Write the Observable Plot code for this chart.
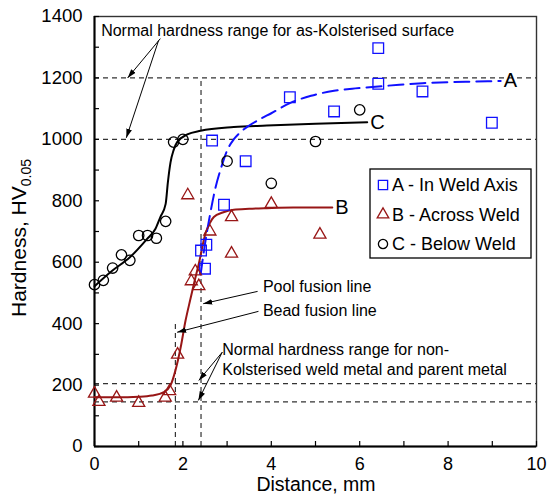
<!DOCTYPE html>
<html><head><meta charset="utf-8">
<script src="https://cdn.jsdelivr.net/npm/d3@7"></script>
<script src="https://cdn.jsdelivr.net/npm/@observablehq/plot@0.6"></script>
<style>body{margin:0;background:#fff}</style>
</head><body><div id="chart"></div>
<script>
// ---- data ----
const seriesA_x = [2.41, 2.53, 2.50, 2.93, 2.66, 3.42, 4.42, 5.42, 6.42, 6.42, 7.42, 8.99];
const seriesA_y = [638, 657, 579, 787, 996, 929, 1137, 1091, 1297, 1181, 1156, 1054];

const seriesB_x = [0, 0.1, 0.5, 1.0, 1.6, 1.7, 1.88, 2.11, 2.19, 2.28, 2.36, 2.61, 3.1, 3.1, 4.0, 5.1];
const seriesB_y = [172, 145, 159, 142, 159, 180, 299, 818, 538, 570, 522, 700, 747, 628, 790, 690];

const seriesC_x = [0, 0.2, 0.41, 0.61, 0.8, 1.0, 1.2, 1.4, 1.61, 1.79, 2.0, 3.0, 4.0, 5.0, 6.0];
const seriesC_y = [527, 541, 581, 624, 606, 687, 687, 678, 733, 991, 1000, 929, 857, 993, 1096];

const fitA_x = [2.40, 2.50, 2.59, 2.74, 2.87, 3.0, 3.15, 3.3, 3.5, 3.76, 4.0, 4.42, 4.9, 5.42, 5.9, 6.42, 6.9, 7.42, 8.0, 8.6, 9.19];
const fitA_y = [560, 660, 736, 844, 910, 964, 1000, 1023, 1045, 1067, 1085, 1118, 1142, 1158, 1166, 1172, 1178, 1183, 1186, 1188, 1190];

const fitB_x = [0, 0.5, 1.0, 1.3, 1.57, 1.72, 1.83, 1.95, 2.06, 2.17, 2.25, 2.36, 2.51, 2.6, 2.7, 2.9, 3.15, 3.5, 3.9, 4.5, 5.38];
const fitB_y = [160, 160, 162, 166, 177, 199, 247, 323, 410, 480, 530, 595, 693, 725, 747, 762, 771, 774, 776, 778, 778];

const fitC_x = [0, 0.1, 0.4, 0.8, 1.19, 1.38, 1.49, 1.61, 1.66, 1.72, 1.79, 1.87, 2.1, 2.4, 3.15, 3.9, 5.0, 6.17];
const fitC_y = [522, 535, 572, 616, 676, 709, 747, 790, 860, 925, 965, 991, 1016, 1028, 1040, 1045, 1051, 1056];

const curveLabel_text = ["A", "B", "C"];
const curveLabel_x = [9.19, 5.38, 6.17];
const curveLabel_y = [1190, 778, 1056];

const hRef_y = [1200, 1000, 205, 145];
const vRef_x = [2.41, 1.83];
const vRef_top = [1200, 410];

const note_text = ["Normal hardness range for as-Kolsterised surface", "Pool fusion line", "Bead fusion line",
                   "Normal hardness range for non-", "Kolsterised weld metal and parent metal"];
const note_x = [0.15, 3.81, 3.81, 2.89, 2.89];
const note_y = [1352, 521, 440, 315, 251];

const arrow_x1 = [1.49, 1.45, 3.69, 3.71, 2.89, 2.89];
const arrow_y1 = [1328, 1322, 505, 440, 307, 307];
const arrow_x2 = [0.75, 0.72, 2.46, 1.87, 2.36, 2.35];
const arrow_y2 = [1200, 1005, 465, 372, 215, 150];

const xTickLabels = [0, 2, 4, 6, 8, 10];
const xTicksAll = d3.range(0, 11, 1);
const yTickLabels = [0, 200, 400, 600, 800, 1000, 1200, 1400];
const yTicksAll = d3.range(0, 1401, 100);

const legend_labels = ["A - In Weld Axis", "B - Across Weld", "C - Below Weld"];

// ---- styling ----
const FONT = "'Liberation Sans', Arial, Helvetica, sans-serif";
const BLUE = "#1010ff";
const RED = "#981616";

const zipXY = (xs, ys) => xs.map((x, i) => ({x, y: ys[i]}));
const ptsA = zipXY(seriesA_x, seriesA_y);
const ptsB = zipXY(seriesB_x, seriesB_y);
const ptsC = zipXY(seriesC_x, seriesC_y);
const lineA = zipXY(fitA_x, fitA_y);
const lineB = zipXY(fitB_x, fitB_y);
const lineC = zipXY(fitC_x, fitC_y);
const curveLabels = curveLabel_text.map((t, i) => ({text: t, x: curveLabel_x[i], y: curveLabel_y[i]}));
const vRefs = vRef_x.map((x, i) => ({x, bottom: 0, top: vRef_top[i]}));
const notes = note_text.map((t, i) => ({text: t, x: note_x[i], y: note_y[i]}));
const arrows = arrow_x1.map((x1, i) => ({x1, y1: arrow_y1[i], x2: arrow_x2[i], y2: arrow_y2[i]}));

const plot = Plot.plot({
  width: 549, height: 503,
  marginLeft: 94, marginRight: 13, marginTop: 16, marginBottom: 57,
  style: {fontFamily: FONT, fontSize: "18px", background: "white", color: "black"},
  x: {domain: [0, 10]},
  y: {domain: [0, 1400]},
  marks: [
    Plot.ruleY(hRef_y, {stroke: "#333", strokeWidth: 1.2, strokeDasharray: "5,4"}),
    Plot.ruleX(vRefs, {x: "x", y1: "bottom", y2: "top", stroke: "#333", strokeWidth: 1.2, strokeDasharray: "5,4"}),
    Plot.frame({stroke: "#333", strokeWidth: 1.4}),
    Plot.ruleX([0], {stroke: "black", strokeWidth: 2}),
    Plot.ruleY([0], {stroke: "black", strokeWidth: 2}),
    Plot.axisY({ticks: yTicksAll, tickSize: 5, dx: 5, fill: "none", label: null, strokeWidth: 1.2}),
    Plot.axisY({ticks: yTickLabels, tickSize: 0, tickPadding: 12, label: null, fontSize: 18.5, tickFormat: d => String(d)}),
    Plot.axisX({ticks: xTicksAll, tickSize: 5, dy: -5, fill: "none", label: null, strokeWidth: 1.2}),
    Plot.axisX({ticks: xTickLabels, tickSize: 0, tickPadding: 11, label: null, fontSize: 18, tickFormat: d => String(d)}),
    Plot.line(lineC, {x: "x", y: "y", curve: "monotone-x", stroke: "black", strokeWidth: 2}),
    Plot.line(lineB, {x: "x", y: "y", curve: "monotone-x", stroke: RED, strokeWidth: 2}),
    Plot.line(lineA, {x: "x", y: "y", curve: "monotone-x", stroke: BLUE, strokeWidth: 2, strokeDasharray: "15,7"}),
    Plot.dot(ptsA, {x: "x", y: "y", symbol: "square", r: 6, stroke: BLUE, strokeWidth: 1.3, fill: "none"}),
    Plot.dot(ptsB, {x: "x", y: "y", symbol: "triangle", r: 4.5, stroke: RED, strokeWidth: 1.3, fill: "none"}),
    Plot.dot(ptsC, {x: "x", y: "y", symbol: "circle", r: 5.2, stroke: "black", strokeWidth: 1.3, fill: "none"}),
    Plot.text(curveLabels, {x: "x", y: "y", text: "text", textAnchor: "start", dx: 3, fontSize: 20, fill: "black"}),
    Plot.text(notes, {x: "x", y: "y", text: "text", textAnchor: "start", fontSize: 16, fill: "black"}),
    Plot.link(arrows, {x1: "x1", y1: "y1", x2: "x2", y2: "y2", stroke: "black", strokeWidth: 1, markerEnd: "arrow"})
  ]
});

const svg = d3.select(plot);
// filled arrowheads
svg.selectAll("marker").each(function () {
  const m = d3.select(this);
  m.attr("viewBox", "-10 -5 10 10").attr("markerWidth", 9).attr("markerHeight", 9)
   .attr("markerUnits", "userSpaceOnUse").attr("refX", 0).attr("refY", 0)
   .attr("fill", "black").attr("stroke", "none");
  m.selectAll("*").remove();
  m.append("path").attr("d", "M-10,-3.2L0,0L-10,3.2Z");
});

// y-axis label with subscript
const yl = svg.append("text").attr("transform", "translate(26,238) rotate(-90)")
  .attr("text-anchor", "middle").attr("font-size", 21).attr("fill", "black");
yl.append("tspan").text("Hardness, HV");
yl.append("tspan").attr("font-size", 14).attr("dy", 5).text("0.05");

// x-axis label
svg.append("text").attr("x", 316).attr("y", 491).attr("text-anchor", "middle")
  .attr("font-size", 19.5).attr("fill", "black").text("Distance, mm");

// legend
const lg = svg.append("g");
lg.append("rect").attr("x", 370).attr("y", 169).attr("width", 161).attr("height", 89)
  .attr("fill", "white").attr("stroke", "black").attr("stroke-width", 1.3);
const legSym = [
  {sym: d3.symbolSquare, size: Math.PI * 5.2 * 5.2, color: BLUE},
  {sym: d3.symbolTriangle, size: Math.PI * 4.3 * 4.3, color: RED},
  {sym: d3.symbolCircle, size: Math.PI * 4.6 * 4.6, color: "black"}
];
legend_labels.forEach((lab, i) => {
  const cy = 185 + i * 29.5;
  lg.append("path").attr("transform", `translate(383,${cy})`)
    .attr("d", d3.symbol(legSym[i].sym, legSym[i].size)())
    .attr("fill", "none").attr("stroke", legSym[i].color).attr("stroke-width", 1.3);
  lg.append("text").attr("x", 392).attr("y", cy).attr("dy", "0.36em").attr("text-anchor", "start")
    .attr("font-size", 18).attr("fill", "black").text(lab);
});

document.getElementById("chart").appendChild(plot);
</script>
</body></html>
